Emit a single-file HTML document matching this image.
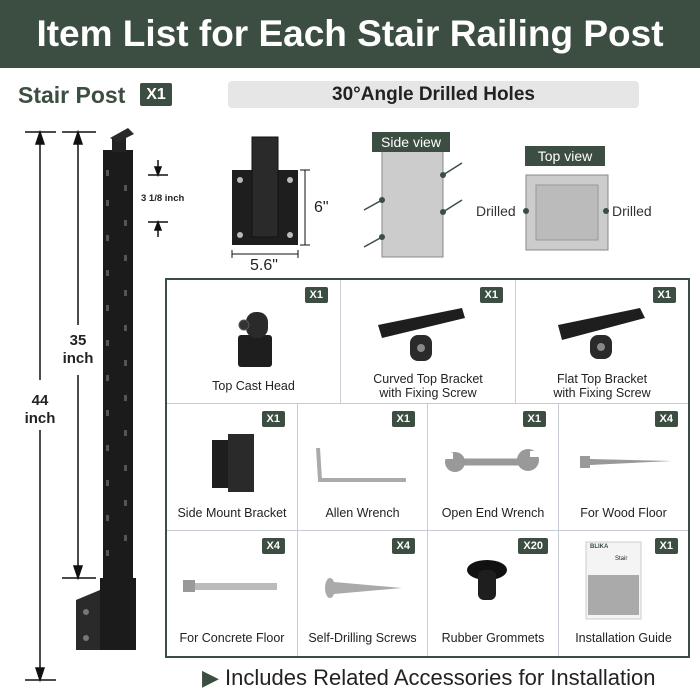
<!DOCTYPE html>
<html><head><meta charset="utf-8"><style>
*{margin:0;padding:0;box-sizing:border-box}
body{width:700px;height:700px;background:#fff;position:relative;overflow:hidden;font-family:"Liberation Sans",sans-serif;color:#222}
.a{position:absolute}
.hdr{left:0;top:0;width:700px;height:68px;background:#3c4d41;color:#fff;font-weight:bold;font-size:37px;text-align:center;line-height:68px}
.badge{position:absolute;background:#3c4d41;color:#fff;font-weight:bold;font-size:11px;padding:2px 5px;border-radius:2px}
.cell{position:absolute;border-right:1px solid #c8ccd4;border-bottom:1px solid #c8ccd4}
.lbl{position:absolute;left:0;right:0;text-align:center;font-size:12.5px;color:#222;line-height:14px}
</style></head><body>
<div class="a hdr">Item List for Each Stair Railing Post</div>
<div class="a" style="left:18px;top:82px;font-size:23px;font-weight:bold;color:#3c4d41">Stair Post</div>
<div class="a" style="left:140px;top:83px;width:32px;height:23px;background:#3c4d41;color:#fff;font-weight:bold;font-size:16px;text-align:center;line-height:23px;border-radius:2px">X1</div>
<div class="a" style="left:228px;top:81px;width:411px;height:27px;background:#e6e6e6;border-radius:4px;text-align:center;font-weight:bold;font-size:19px;line-height:27px">30°Angle Drilled Holes</div>

<svg class="a" style="left:0;top:0" width="700" height="700">
<g stroke="#111" stroke-width="1.5" fill="#111">
<line x1="40" y1="134" x2="40" y2="380"/><line x1="40" y1="430" x2="40" y2="678"/>
<line x1="25" y1="132" x2="56" y2="132"/><line x1="25" y1="680" x2="56" y2="680"/>
<polygon points="40,132 36,144 44,144"/><polygon points="40,680 36,668 44,668"/>
<line x1="78" y1="134" x2="78" y2="325"/><line x1="78" y1="375" x2="78" y2="576"/>
<line x1="62" y1="132" x2="96" y2="132"/><line x1="62" y1="578" x2="96" y2="578"/>
<polygon points="78,132 74,144 82,144"/><polygon points="78,578 74,566 82,566"/>
<line x1="148" y1="175" x2="168" y2="175"/><line x1="148" y1="222" x2="168" y2="222"/>
<line x1="158" y1="160" x2="158" y2="175"/><line x1="158" y1="222" x2="158" y2="237"/>
<polygon points="158,175 155,167 161,167"/><polygon points="158,222 155,230 161,230"/>
</g>
<rect x="103" y="150" width="30" height="430" fill="#1b1b1b"/>
<rect x="112" y="138" width="14" height="14" fill="#222"/>
<path d="M110 138 L128 128 L134 134 L118 142Z" fill="#2a2a2a"/>
<g fill="#555">
<rect x="106" y="170" width="3" height="6"/><rect x="106" y="200" width="3" height="6"/><rect x="106" y="235" width="3" height="6"/><rect x="106" y="270" width="3" height="6"/><rect x="106" y="305" width="3" height="6"/><rect x="106" y="340" width="3" height="6"/><rect x="106" y="375" width="3" height="6"/><rect x="106" y="410" width="3" height="6"/><rect x="106" y="445" width="3" height="6"/><rect x="106" y="480" width="3" height="6"/><rect x="106" y="515" width="3" height="6"/><rect x="106" y="550" width="3" height="6"/>
<rect x="124" y="185" width="3" height="6"/><rect x="124" y="220" width="3" height="6"/><rect x="124" y="255" width="3" height="6"/><rect x="124" y="290" width="3" height="6"/><rect x="124" y="325" width="3" height="6"/><rect x="124" y="360" width="3" height="6"/><rect x="124" y="395" width="3" height="6"/><rect x="124" y="430" width="3" height="6"/><rect x="124" y="465" width="3" height="6"/><rect x="124" y="500" width="3" height="6"/><rect x="124" y="535" width="3" height="6"/>
</g>
<rect x="100" y="578" width="36" height="72" fill="#1b1b1b"/>
<path d="M76 600 L100 590 L100 650 L76 650Z" fill="#2a2a2a"/>
<circle cx="86" cy="612" r="3" fill="#777"/><circle cx="86" cy="638" r="3" fill="#777"/>
<rect x="232" y="170" width="66" height="75" fill="#1e1e1e"/>
<rect x="252" y="137" width="26" height="100" fill="#2a2a2a" stroke="#111"/>
<g fill="#bbb"><circle cx="240" cy="180" r="3"/><circle cx="290" cy="180" r="3"/><circle cx="240" cy="235" r="3"/><circle cx="290" cy="235" r="3"/></g>
<g stroke="#111" stroke-width="1"><line x1="300" y1="170" x2="310" y2="170"/><line x1="300" y1="245" x2="310" y2="245"/><line x1="305" y1="170" x2="305" y2="245"/><line x1="232" y1="250" x2="232" y2="258"/><line x1="298" y1="250" x2="298" y2="258"/><line x1="232" y1="254" x2="298" y2="254"/></g>
<rect x="382" y="150" width="61" height="107" fill="#ccc" stroke="#888"/>
<g stroke="#3c4d41" stroke-width="1.5"><line x1="443" y1="175" x2="462" y2="163"/><line x1="443" y1="212" x2="462" y2="200"/><line x1="382" y1="200" x2="364" y2="210"/><line x1="382" y1="237" x2="364" y2="247"/></g>
<g fill="#3c4d41"><circle cx="443" cy="175" r="3"/><circle cx="443" cy="212" r="3"/><circle cx="382" cy="200" r="3"/><circle cx="382" cy="237" r="3"/></g>
<rect x="526" y="175" width="82" height="75" fill="#ccc" stroke="#888"/>
<rect x="536" y="185" width="62" height="55" fill="#bbb" stroke="#999"/>
<circle cx="526" cy="211" r="3" fill="#3c4d41"/><circle cx="606" cy="211" r="3" fill="#3c4d41"/>
</svg>
<div class="a" style="left:20px;top:392px;font-size:15px;font-weight:bold;text-align:center;width:40px;line-height:18px;background:#fff">44<br>inch</div>
<div class="a" style="left:56px;top:332px;font-size:15px;font-weight:bold;text-align:center;width:44px;line-height:18px;background:#fff">35<br>inch</div>
<div class="a" style="left:141px;top:193px;font-size:9.5px;font-weight:bold">3 1/8 inch</div>
<div class="a" style="left:314px;top:199px;font-size:16px">6"</div>
<div class="a" style="left:250px;top:257px;font-size:16px">5.6"</div>
<div class="a" style="left:372px;top:132px;width:78px;height:20px;background:#3c4d41;color:#fff;font-size:14px;text-align:center;line-height:20px">Side view</div>
<div class="a" style="left:525px;top:146px;width:80px;height:20px;background:#3c4d41;color:#fff;font-size:14px;text-align:center;line-height:20px">Top view</div>
<div class="a" style="left:476px;top:203px;font-size:14px;color:#333">Drilled</div>
<div class="a" style="left:612px;top:203px;font-size:14px;color:#333">Drilled</div>

<div class="a" style="left:165px;top:278px;width:525px;height:380px;border:2px solid #3c4d41"></div>
<div class="cell" style="left:167px;top:280px;width:174px;height:124px"><div class="badge" style="right:12px;top:7px">X1</div><div class="lbl" style="top:99px">Top Cast Head</div></div>
<div class="cell" style="left:341px;top:280px;width:175px;height:124px"><div class="badge" style="right:12px;top:7px">X1</div><div class="lbl" style="top:92px">Curved Top Bracket<br>with Fixing Screw</div></div>
<div class="cell" style="left:516px;top:280px;width:172px;height:124px;border-right:none"><div class="badge" style="right:12px;top:7px">X1</div><div class="lbl" style="top:92px">Flat Top Bracket<br>with Fixing Screw</div></div>
<div class="cell" style="left:167px;top:404px;width:131px;height:127px"><div class="badge" style="right:12px;top:7px">X1</div><div class="lbl" style="top:102px">Side Mount Bracket</div></div>
<div class="cell" style="left:298px;top:404px;width:130px;height:127px"><div class="badge" style="right:12px;top:7px">X1</div><div class="lbl" style="top:102px">Allen Wrench</div></div>
<div class="cell" style="left:428px;top:404px;width:131px;height:127px"><div class="badge" style="right:12px;top:7px">X1</div><div class="lbl" style="top:102px">Open End Wrench</div></div>
<div class="cell" style="left:559px;top:404px;width:129px;height:127px;border-right:none"><div class="badge" style="right:10px;top:7px">X4</div><div class="lbl" style="top:102px">For Wood Floor</div></div>
<div class="cell" style="left:167px;top:531px;width:131px;height:125px;border-bottom:none"><div class="badge" style="right:12px;top:7px">X4</div><div class="lbl" style="top:100px">For Concrete Floor</div></div>
<div class="cell" style="left:298px;top:531px;width:130px;height:125px;border-bottom:none"><div class="badge" style="right:12px;top:7px">X4</div><div class="lbl" style="top:100px">Self-Drilling Screws</div></div>
<div class="cell" style="left:428px;top:531px;width:131px;height:125px;border-bottom:none"><div class="badge" style="right:10px;top:7px">X20</div><div class="lbl" style="top:100px">Rubber Grommets</div></div>
<div class="cell" style="left:559px;top:531px;width:129px;height:125px;border:none"><div class="badge" style="right:10px;top:7px">X1</div><div class="lbl" style="top:100px">Installation Guide</div></div>

<svg class="a" style="left:0;top:0" width="700" height="700">
<rect x="238" y="335" width="34" height="32" rx="3" fill="#1e1e1e"/><rect x="246" y="312" width="22" height="26" rx="10" fill="#2a2a2a"/><circle cx="244" cy="325" r="5" fill="#333" stroke="#555"/>
<path d="M378 325 L462 308 L465 318 L382 338Z" fill="#1e1e1e"/><rect x="410" y="335" width="22" height="26" rx="8" fill="#2a2a2a"/><circle cx="421" cy="348" r="4" fill="#888"/>
<path d="M558 325 L640 308 L645 318 L562 340Z" fill="#1e1e1e"/><rect x="590" y="335" width="22" height="24" rx="8" fill="#2a2a2a"/><circle cx="601" cy="347" r="4" fill="#888"/>
<rect x="212" y="440" width="22" height="48" fill="#1e1e1e"/><rect x="228" y="434" width="26" height="58" fill="#2a2a2a"/>
<path d="M318 448 L320 480 L406 480" stroke="#aaa" stroke-width="4" fill="none"/>
<path d="M455 462 L525 462" stroke="#999" stroke-width="7"/><circle cx="455" cy="462" r="10" fill="#999"/><circle cx="528" cy="460" r="11" fill="#999"/><rect x="443" y="453" width="10" height="6" fill="#fff"/><rect x="530" y="451" width="12" height="6" fill="#fff"/>
<rect x="580" y="456" width="10" height="12" fill="#999"/><path d="M590 459 L672 461 L590 465Z" fill="#999"/>
<rect x="183" y="580" width="12" height="12" fill="#999"/><rect x="195" y="583" width="82" height="7" fill="#bbb"/>
<ellipse cx="330" cy="588" rx="5" ry="10" fill="#aaa"/><path d="M334 582 L402 588 L334 594Z" fill="#aaa"/>
<ellipse cx="487" cy="570" rx="20" ry="10" fill="#111"/><rect x="478" y="570" width="18" height="30" rx="6" fill="#1e1e1e"/>
<rect x="586" y="542" width="55" height="77" fill="#f4f4f4" stroke="#ccc"/><rect x="588" y="575" width="51" height="40" fill="#aaa"/>
</svg>
<div class="a" style="left:590px;top:544px;font-size:6px;color:#3c4d41;font-weight:bold">BLIKA</div>
<div class="a" style="left:615px;top:556px;font-size:6px">Stair</div>

<div class="a" style="left:202px;top:665px;font-size:22px;color:#222;white-space:nowrap"><span style="color:#3c4d41">▶</span> Includes Related Accessories for Installation</div>
</body></html>
